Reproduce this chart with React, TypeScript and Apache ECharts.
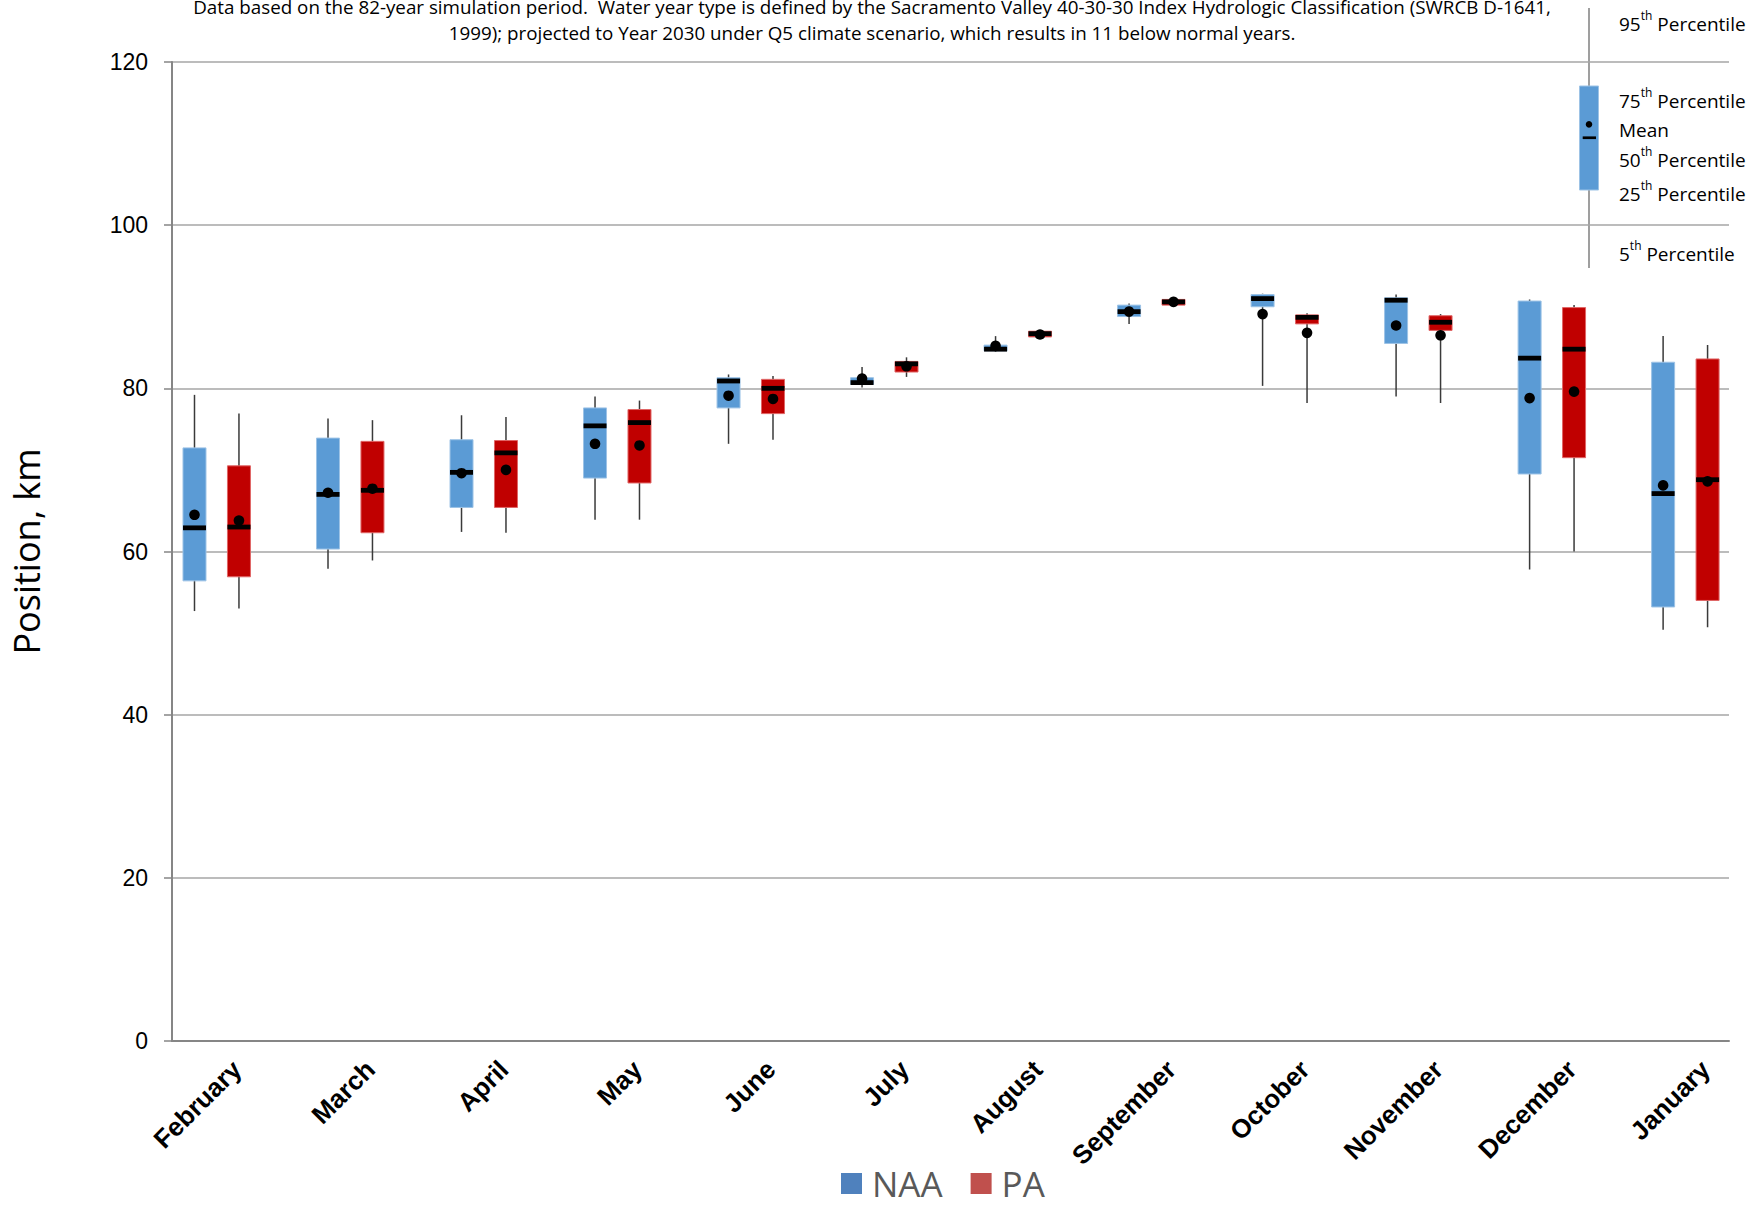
import React, { useEffect, useRef } from "react";
import * as echarts from "echarts";

const months = ["February", "March", "April", "May", "June", "July", "August", "September", "October", "November", "December", "January"];

// NAA (No Action Alternative) percentiles
const naaP5 = [52.7, 57.9, 62.4, 63.9, 73.2, 80.1, 84.5, 87.9, 80.3, 79.0, 57.8, 50.4];
const naaP25 = [56.4, 60.3, 65.4, 69.0, 77.6, 80.5, 84.6, 88.8, 90.0, 85.5, 69.5, 53.2];
const naaP50 = [62.9, 67.0, 69.7, 75.4, 80.9, 80.7, 84.8, 89.4, 91.0, 90.8, 83.7, 67.1];
const naaP75 = [72.7, 73.9, 73.7, 77.6, 81.3, 81.3, 85.3, 90.2, 91.5, 91.1, 90.7, 83.2];
const naaP95 = [79.2, 76.3, 76.7, 79.0, 81.7, 82.6, 86.4, 90.4, 91.6, 91.5, 90.9, 86.4];
const naaMean = [64.5, 67.2, 69.6, 73.2, 79.1, 81.2, 85.2, 89.4, 89.1, 87.7, 78.8, 68.1];

// PA (Proposed Action) percentiles
const paP5 = [53.0, 58.9, 62.3, 63.9, 73.7, 81.4, 86.2, 90.1, 78.2, 78.2, 60.0, 50.7];
const paP25 = [56.9, 62.3, 65.4, 68.4, 76.9, 82.0, 86.3, 90.2, 87.9, 87.1, 71.5, 54.0];
const paP50 = [63.0, 67.5, 72.1, 75.8, 80.0, 83.0, 86.7, 90.6, 88.7, 88.1, 84.8, 68.8];
const paP75 = [70.5, 73.5, 73.6, 77.4, 81.1, 83.3, 87.0, 90.9, 89.0, 88.9, 89.9, 83.6];
const paP95 = [76.9, 76.1, 76.5, 78.5, 81.5, 83.8, 87.1, 91.0, 89.2, 89.1, 90.2, 85.3];
const paMean = [63.8, 67.7, 70.0, 73.0, 78.7, 82.7, 86.6, 90.6, 86.8, 86.5, 79.6, 68.6];

const yTicks = [0, 20, 40, 60, 80, 100, 120];

const titleLine1 =
  "Data based on the 82-year simulation period.  Water year type is defined by the Sacramento Valley 40-30-30 Index Hydrologic Classification (SWRCB D-1641,";
const titleLine2 =
  "1999); projected to Year 2030 under Q5 climate scenario, which results in 11 below normal years.";

const NAA_COLOR = "#5B9BD5";
const PA_COLOR = "#C00000";
const LABEL_SHIFT = 0.15;

function buildRows(p5: number[], p25: number[], p50: number[], p75: number[], p95: number[], mean: number[]) {
  return months.map((_, i) => [i, p5[i], p25[i], p50[i], p75[i], p95[i], mean[i]]);
}

function makeRenderer(offset: number, color: string, border: string) {
  return (_params: any, api: any) => {
    const x = api.value(0) + offset;
    const pLow = api.coord([x, api.value(1)]);
    const p25 = api.coord([x, api.value(2)]);
    const p50 = api.coord([x, api.value(3)]);
    const p75 = api.coord([x, api.value(4)]);
    const pHigh = api.coord([x, api.value(5)]);
    const pMean = api.coord([x, api.value(6)]);
    const hw = 11.5;
    const cx = p50[0];
    return {
      type: "group",
      children: [
        {
          type: "line",
          shape: { x1: cx, y1: pHigh[1], x2: cx, y2: pLow[1] },
          style: { stroke: "#3a3a3a", lineWidth: 1.5 },
        },
        {
          type: "rect",
          shape: { x: cx - hw, y: p75[1], width: hw * 2, height: Math.max(p25[1] - p75[1], 1) },
          style: { fill: color, stroke: border, lineWidth: 1 },
        },
        {
          type: "rect",
          shape: { x: cx - hw, y: p50[1] - 2.4, width: hw * 2, height: 4.8 },
          style: { fill: "#000" },
        },
        {
          type: "circle",
          shape: { cx, cy: pMean[1], r: 5.3 },
          style: { fill: "#000" },
        },
      ],
    };
  };
}

const pctRich = {
  n: { fontSize: 19, fontFamily: "Open Sans", color: "#1a1a1a", verticalAlign: "bottom", lineHeight: 24 },
  s: { fontSize: 12, fontFamily: "Open Sans", color: "#1a1a1a", verticalAlign: "top", lineHeight: 18 },
};

function pctText(num: string, sup: string, y: number) {
  const txt = sup ? `{n|${num}}{s|${sup}}{n| Percentile}` : `{n|${num}}`;
  return {
    type: "text",
    x: 1619,
    y,
    style: { text: txt, rich: pctRich, align: "left", verticalAlign: "middle" },
  };
}

export default function App() {
  const ref = useRef<HTMLDivElement>(null);
  useEffect(() => {
    if (!ref.current) return;
    const chart = echarts.init(ref.current, null, { renderer: "svg" });
    const option: any = {
      animation: false,
      backgroundColor: "#ffffff",
      grid: { left: 171, right: 35, top: 62, bottom: 168, containLabel: false },
      xAxis: {
        type: "value",
        min: -0.335,
        max: 11.327,
        splitLine: { show: false },
        axisTick: { show: false },
        axisLine: { show: true, onZero: false, lineStyle: { color: "#868686", width: 2 } },
        axisLabel: {
          customValues: months.map((_, i) => i + LABEL_SHIFT),
          formatter: (v: number) => months[Math.round(v - LABEL_SHIFT)] ?? "",
          rotate: 45,
          fontSize: 26,
          fontWeight: "bold",
          fontFamily: "Liberation Sans, Arial",
          color: "#000",
          margin: 24,
        },
      },
      yAxis: {
        type: "value",
        min: yTicks[0],
        max: yTicks[yTicks.length - 1],
        interval: 20,
        name: "Position, km",
        nameLocation: "middle",
        nameGap: 128,
        nameTextStyle: { fontSize: 36, fontFamily: "Open Sans", color: "#000" },
        axisLine: { show: true, onZero: false, lineStyle: { color: "#868686", width: 2 } },
        axisTick: { show: true, length: 8, lineStyle: { color: "#868686", width: 1.5 } },
        splitLine: { show: true, lineStyle: { color: "#A6A6A6", width: 1.5 } },
        axisLabel: { fontSize: 23, fontFamily: "Liberation Sans, Arial", color: "#000", margin: 24 },
      },
      legend: {
        left: 836,
        top: 1161,
        itemWidth: 21,
        itemHeight: 21,
        itemGap: 28,
        icon: "rect",
        textStyle: { fontSize: 35, fontFamily: "Open Sans", color: "#595959", padding: [0, 0, 0, 5] },
        data: [
          { name: "NAA", itemStyle: { color: "#4F81BD" } },
          { name: "PA", itemStyle: { color: "#C0504D" } },
        ],
      },
      series: [
        {
          name: "NAA",
          type: "custom",
          itemStyle: { color: "#4F81BD" },
          renderItem: makeRenderer(-0.1665, NAA_COLOR, "#9DC3E6"),
          encode: { x: 0, y: [1, 2, 3, 4, 5, 6] },
          data: buildRows(naaP5, naaP25, naaP50, naaP75, naaP95, naaMean),
        },
        {
          name: "PA",
          type: "custom",
          itemStyle: { color: "#C0504D" },
          renderItem: makeRenderer(0.1665, PA_COLOR, "#E06666"),
          encode: { x: 0, y: [1, 2, 3, 4, 5, 6] },
          data: buildRows(paP5, paP25, paP50, paP75, paP95, paMean),
        },
      ],
      graphic: [
        {
          type: "text",
          x: 872,
          y: 7,
          style: { text: titleLine1, font: "18.8px 'Open Sans'", fill: "#000", align: "center", verticalAlign: "middle" },
        },
        {
          type: "text",
          x: 872,
          y: 33,
          style: { text: titleLine2, font: "18.8px 'Open Sans'", fill: "#000", align: "center", verticalAlign: "middle" },
        },
        {
          type: "line",
          shape: { x1: 1589, y1: 8, x2: 1589, y2: 268 },
          style: { stroke: "#7F7F7F", lineWidth: 1.5 },
        },
        {
          type: "rect",
          shape: { x: 1579.5, y: 86, width: 19, height: 104 },
          style: { fill: NAA_COLOR, stroke: "#9DC3E6", lineWidth: 1 },
        },
        {
          type: "rect",
          shape: { x: 1582.7, y: 136.4, width: 13.3, height: 2.7 },
          style: { fill: "#000" },
        },
        {
          type: "circle",
          shape: { cx: 1589, cy: 124.3, r: 3.3 },
          style: { fill: "#000" },
        },
        pctText("95", "th", 21),
        pctText("75", "th", 98),
        pctText("Mean", "", 127),
        pctText("50", "th", 157),
        pctText("25", "th", 191),
        pctText("5", "th", 251),
      ],
    };
    chart.setOption(option);
    return () => chart.dispose();
  }, []);
  return (
    <div
      ref={ref}
      style={{ position: "fixed", left: 0, top: 0, width: 1764, height: 1209, background: "#fff" }}
    />
  );
}
